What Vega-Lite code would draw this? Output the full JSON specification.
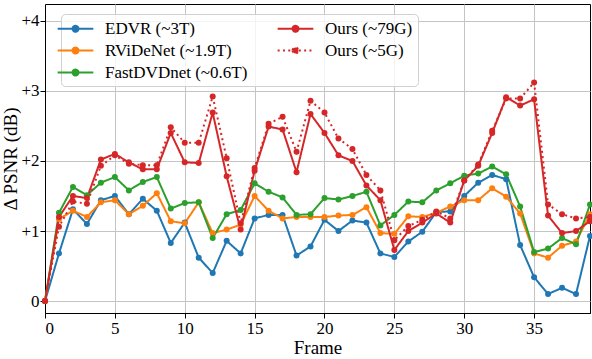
{
"$schema": "https://vega.github.io/schema/vega-lite/v6.json",
"width": 545, "height": 309,
"autosize": {"type": "none"},
"padding": {"left": 45, "top": 4, "right": 2, "bottom": 46},
"background": "white",
"config": {
 "view": {"stroke": "black", "strokeWidth": 1},
 "font": "Liberation Serif",
 "axis": {"labelFont": "Liberation Serif", "labelFontSize": 17, "labelColor": "black", "titleFont": "Liberation Serif", "titleFontSize": 19, "titleFontWeight": "normal", "titleColor": "black", "domainColor": "black", "tickColor": "black", "tickSize": 5, "gridColor": "#c4c4c4", "gridWidth": 1, "labelPadding": 2},
 "legend": {"orient": "none", "legendX": 16, "legendY": 10, "columns": 2, "columnPadding": 25, "rowPadding": 4, "padding": 5, "strokeColor": "#d0d0d0", "fillColor": "rgba(255,255,255,0.8)", "cornerRadius": 4, "labelFont": "Liberation Serif", "labelFontSize": 17, "labelColor": "black", "labelOffset": 20, "symbolType": "M-2.1,0H2.1M-0.35,0A0.35,0.35 0 1,0 0.35,0A0.35,0.35 0 1,0 -0.35,0Z", "symbolSize": 289, "symbolStrokeWidth": 2, "symbolOpacity": 1}
},
"data": {"values": [
{"f":0,"m":"EDVR (~3T)","v":0},{"f":1,"m":"EDVR (~3T)","v":0.68},{"f":2,"m":"EDVR (~3T)","v":1.31},{"f":3,"m":"EDVR (~3T)","v":1.10},{"f":4,"m":"EDVR (~3T)","v":1.44},{"f":5,"m":"EDVR (~3T)","v":1.50},{"f":6,"m":"EDVR (~3T)","v":1.24},{"f":7,"m":"EDVR (~3T)","v":1.46},{"f":8,"m":"EDVR (~3T)","v":1.29},{"f":9,"m":"EDVR (~3T)","v":0.83},
{"f":10,"m":"EDVR (~3T)","v":1.12},{"f":11,"m":"EDVR (~3T)","v":0.62},{"f":12,"m":"EDVR (~3T)","v":0.40},{"f":13,"m":"EDVR (~3T)","v":0.86},{"f":14,"m":"EDVR (~3T)","v":0.68},{"f":15,"m":"EDVR (~3T)","v":1.18},{"f":16,"m":"EDVR (~3T)","v":1.23},{"f":17,"m":"EDVR (~3T)","v":1.23},{"f":18,"m":"EDVR (~3T)","v":0.65},{"f":19,"m":"EDVR (~3T)","v":0.78},
{"f":20,"m":"EDVR (~3T)","v":1.16},{"f":21,"m":"EDVR (~3T)","v":1.00},{"f":22,"m":"EDVR (~3T)","v":1.15},{"f":23,"m":"EDVR (~3T)","v":1.12},{"f":24,"m":"EDVR (~3T)","v":0.68},{"f":25,"m":"EDVR (~3T)","v":0.63},{"f":26,"m":"EDVR (~3T)","v":0.85},{"f":27,"m":"EDVR (~3T)","v":0.99},{"f":28,"m":"EDVR (~3T)","v":1.27},{"f":29,"m":"EDVR (~3T)","v":1.28},
{"f":30,"m":"EDVR (~3T)","v":1.50},{"f":31,"m":"EDVR (~3T)","v":1.69},{"f":32,"m":"EDVR (~3T)","v":1.80},{"f":33,"m":"EDVR (~3T)","v":1.74},{"f":34,"m":"EDVR (~3T)","v":0.80},{"f":35,"m":"EDVR (~3T)","v":0.34},{"f":36,"m":"EDVR (~3T)","v":0.10},{"f":37,"m":"EDVR (~3T)","v":0.19},{"f":38,"m":"EDVR (~3T)","v":0.10},{"f":39,"m":"EDVR (~3T)","v":0.93},
{"f":0,"m":"RViDeNet (~1.9T)","v":0},{"f":1,"m":"RViDeNet (~1.9T)","v":1.17},{"f":2,"m":"RViDeNet (~1.9T)","v":1.29},{"f":3,"m":"RViDeNet (~1.9T)","v":1.20},{"f":4,"m":"RViDeNet (~1.9T)","v":1.41},{"f":5,"m":"RViDeNet (~1.9T)","v":1.44},{"f":6,"m":"RViDeNet (~1.9T)","v":1.24},{"f":7,"m":"RViDeNet (~1.9T)","v":1.36},{"f":8,"m":"RViDeNet (~1.9T)","v":1.54},{"f":9,"m":"RViDeNet (~1.9T)","v":1.14},
{"f":10,"m":"RViDeNet (~1.9T)","v":1.11},{"f":11,"m":"RViDeNet (~1.9T)","v":1.41},{"f":12,"m":"RViDeNet (~1.9T)","v":0.97},{"f":13,"m":"RViDeNet (~1.9T)","v":1.02},{"f":14,"m":"RViDeNet (~1.9T)","v":1.09},{"f":15,"m":"RViDeNet (~1.9T)","v":1.50},{"f":16,"m":"RViDeNet (~1.9T)","v":1.29},{"f":17,"m":"RViDeNet (~1.9T)","v":1.18},{"f":18,"m":"RViDeNet (~1.9T)","v":1.20},{"f":19,"m":"RViDeNet (~1.9T)","v":1.20},
{"f":20,"m":"RViDeNet (~1.9T)","v":1.20},{"f":21,"m":"RViDeNet (~1.9T)","v":1.22},{"f":22,"m":"RViDeNet (~1.9T)","v":1.23},{"f":23,"m":"RViDeNet (~1.9T)","v":1.34},{"f":24,"m":"RViDeNet (~1.9T)","v":0.97},{"f":25,"m":"RViDeNet (~1.9T)","v":0.96},{"f":26,"m":"RViDeNet (~1.9T)","v":1.21},{"f":27,"m":"RViDeNet (~1.9T)","v":1.20},{"f":28,"m":"RViDeNet (~1.9T)","v":1.26},{"f":29,"m":"RViDeNet (~1.9T)","v":1.35},
{"f":30,"m":"RViDeNet (~1.9T)","v":1.44},{"f":31,"m":"RViDeNet (~1.9T)","v":1.44},{"f":32,"m":"RViDeNet (~1.9T)","v":1.61},{"f":33,"m":"RViDeNet (~1.9T)","v":1.49},{"f":34,"m":"RViDeNet (~1.9T)","v":1.25},{"f":35,"m":"RViDeNet (~1.9T)","v":0.68},{"f":36,"m":"RViDeNet (~1.9T)","v":0.62},{"f":37,"m":"RViDeNet (~1.9T)","v":0.79},{"f":38,"m":"RViDeNet (~1.9T)","v":0.85},{"f":39,"m":"RViDeNet (~1.9T)","v":1.24},
{"f":0,"m":"FastDVDnet (~0.6T)","v":0},{"f":1,"m":"FastDVDnet (~0.6T)","v":1.26},{"f":2,"m":"FastDVDnet (~0.6T)","v":1.63},{"f":3,"m":"FastDVDnet (~0.6T)","v":1.51},{"f":4,"m":"FastDVDnet (~0.6T)","v":1.69},{"f":5,"m":"FastDVDnet (~0.6T)","v":1.77},{"f":6,"m":"FastDVDnet (~0.6T)","v":1.58},{"f":7,"m":"FastDVDnet (~0.6T)","v":1.70},{"f":8,"m":"FastDVDnet (~0.6T)","v":1.77},{"f":9,"m":"FastDVDnet (~0.6T)","v":1.32},
{"f":10,"m":"FastDVDnet (~0.6T)","v":1.40},{"f":11,"m":"FastDVDnet (~0.6T)","v":1.41},{"f":12,"m":"FastDVDnet (~0.6T)","v":0.90},{"f":13,"m":"FastDVDnet (~0.6T)","v":1.24},{"f":14,"m":"FastDVDnet (~0.6T)","v":1.30},{"f":15,"m":"FastDVDnet (~0.6T)","v":1.68},{"f":16,"m":"FastDVDnet (~0.6T)","v":1.56},{"f":17,"m":"FastDVDnet (~0.6T)","v":1.48},{"f":18,"m":"FastDVDnet (~0.6T)","v":1.23},{"f":19,"m":"FastDVDnet (~0.6T)","v":1.24},
{"f":20,"m":"FastDVDnet (~0.6T)","v":1.47},{"f":21,"m":"FastDVDnet (~0.6T)","v":1.45},{"f":22,"m":"FastDVDnet (~0.6T)","v":1.50},{"f":23,"m":"FastDVDnet (~0.6T)","v":1.56},{"f":24,"m":"FastDVDnet (~0.6T)","v":1.08},{"f":25,"m":"FastDVDnet (~0.6T)","v":1.23},{"f":26,"m":"FastDVDnet (~0.6T)","v":1.42},{"f":27,"m":"FastDVDnet (~0.6T)","v":1.41},{"f":28,"m":"FastDVDnet (~0.6T)","v":1.58},{"f":29,"m":"FastDVDnet (~0.6T)","v":1.68},
{"f":30,"m":"FastDVDnet (~0.6T)","v":1.79},{"f":31,"m":"FastDVDnet (~0.6T)","v":1.82},{"f":32,"m":"FastDVDnet (~0.6T)","v":1.92},{"f":33,"m":"FastDVDnet (~0.6T)","v":1.81},{"f":34,"m":"FastDVDnet (~0.6T)","v":1.35},{"f":35,"m":"FastDVDnet (~0.6T)","v":0.70},{"f":36,"m":"FastDVDnet (~0.6T)","v":0.75},{"f":37,"m":"FastDVDnet (~0.6T)","v":0.90},{"f":38,"m":"FastDVDnet (~0.6T)","v":0.81},{"f":39,"m":"FastDVDnet (~0.6T)","v":1.38},
{"f":0,"m":"Ours (~79G)","v":0},{"f":1,"m":"Ours (~79G)","v":1.20},{"f":2,"m":"Ours (~79G)","v":1.50},{"f":3,"m":"Ours (~79G)","v":1.47},{"f":4,"m":"Ours (~79G)","v":2.02},{"f":5,"m":"Ours (~79G)","v":2.10},{"f":6,"m":"Ours (~79G)","v":1.98},{"f":7,"m":"Ours (~79G)","v":1.88},{"f":8,"m":"Ours (~79G)","v":1.88},{"f":9,"m":"Ours (~79G)","v":2.40},
{"f":10,"m":"Ours (~79G)","v":1.98},{"f":11,"m":"Ours (~79G)","v":1.97},{"f":12,"m":"Ours (~79G)","v":2.69},{"f":13,"m":"Ours (~79G)","v":1.78},{"f":14,"m":"Ours (~79G)","v":1.02},{"f":15,"m":"Ours (~79G)","v":1.86},{"f":16,"m":"Ours (~79G)","v":2.49},{"f":17,"m":"Ours (~79G)","v":2.45},{"f":18,"m":"Ours (~79G)","v":1.84},{"f":19,"m":"Ours (~79G)","v":2.67},
{"f":20,"m":"Ours (~79G)","v":2.40},{"f":21,"m":"Ours (~79G)","v":2.08},{"f":22,"m":"Ours (~79G)","v":2.00},{"f":23,"m":"Ours (~79G)","v":1.65},{"f":24,"m":"Ours (~79G)","v":1.44},{"f":25,"m":"Ours (~79G)","v":0.73},{"f":26,"m":"Ours (~79G)","v":1.00},{"f":27,"m":"Ours (~79G)","v":1.12},{"f":28,"m":"Ours (~79G)","v":1.25},{"f":29,"m":"Ours (~79G)","v":1.12},
{"f":30,"m":"Ours (~79G)","v":1.72},{"f":31,"m":"Ours (~79G)","v":1.93},{"f":32,"m":"Ours (~79G)","v":2.40},{"f":33,"m":"Ours (~79G)","v":2.91},{"f":34,"m":"Ours (~79G)","v":2.79},{"f":35,"m":"Ours (~79G)","v":2.88},{"f":36,"m":"Ours (~79G)","v":1.22},{"f":37,"m":"Ours (~79G)","v":0.97},{"f":38,"m":"Ours (~79G)","v":1.00},{"f":39,"m":"Ours (~79G)","v":1.14},
{"f":0,"m":"Ours (~5G)","v":0},{"f":1,"m":"Ours (~5G)","v":1.06},{"f":2,"m":"Ours (~5G)","v":1.42},{"f":3,"m":"Ours (~5G)","v":1.39},{"f":4,"m":"Ours (~5G)","v":1.93},{"f":5,"m":"Ours (~5G)","v":2.08},{"f":6,"m":"Ours (~5G)","v":1.96},{"f":7,"m":"Ours (~5G)","v":1.94},{"f":8,"m":"Ours (~5G)","v":1.94},{"f":9,"m":"Ours (~5G)","v":2.48},
{"f":10,"m":"Ours (~5G)","v":2.26},{"f":11,"m":"Ours (~5G)","v":2.26},{"f":12,"m":"Ours (~5G)","v":2.92},{"f":13,"m":"Ours (~5G)","v":2.04},{"f":14,"m":"Ours (~5G)","v":1.11},{"f":15,"m":"Ours (~5G)","v":1.90},{"f":16,"m":"Ours (~5G)","v":2.53},{"f":17,"m":"Ours (~5G)","v":2.63},{"f":18,"m":"Ours (~5G)","v":2.13},{"f":19,"m":"Ours (~5G)","v":2.86},
{"f":20,"m":"Ours (~5G)","v":2.69},{"f":21,"m":"Ours (~5G)","v":2.32},{"f":22,"m":"Ours (~5G)","v":2.17},{"f":23,"m":"Ours (~5G)","v":1.80},{"f":24,"m":"Ours (~5G)","v":1.58},{"f":25,"m":"Ours (~5G)","v":0.87},{"f":26,"m":"Ours (~5G)","v":1.07},{"f":27,"m":"Ours (~5G)","v":1.16},{"f":28,"m":"Ours (~5G)","v":1.28},{"f":29,"m":"Ours (~5G)","v":1.18},
{"f":30,"m":"Ours (~5G)","v":1.72},{"f":31,"m":"Ours (~5G)","v":1.95},{"f":32,"m":"Ours (~5G)","v":2.43},{"f":33,"m":"Ours (~5G)","v":2.89},{"f":34,"m":"Ours (~5G)","v":2.89},{"f":35,"m":"Ours (~5G)","v":3.12},{"f":36,"m":"Ours (~5G)","v":1.38},{"f":37,"m":"Ours (~5G)","v":1.24},{"f":38,"m":"Ours (~5G)","v":1.18},{"f":39,"m":"Ours (~5G)","v":1.20}
]},
"encoding": {
 "x": {"field": "f", "type": "quantitative", "scale": {"domain": [0, 39], "nice": false, "zero": false}, "axis": {"title": "Frame", "values": [0,5,10,15,20,25,30,35], "titlePadding": 2}},
 "y": {"field": "v", "type": "quantitative", "scale": {"domain": [-0.17, 4.24], "nice": false, "zero": false}, "axis": {"title": "Δ PSNR (dB)", "values": [0,1,2,3,4], "labelExpr": "datum.value > 0 ? '+' + datum.value : '' + datum.value", "titlePadding": 0, "labelPadding": 1}},
 "color": {"field": "m", "type": "nominal", "sort": null, "scale": {"domain": ["EDVR (~3T)", "RViDeNet (~1.9T)", "FastDVDnet (~0.6T)", "Ours (~79G)", "Ours (~5G)"], "range": ["#1f77b4", "#ff7f0e", "#2ca02c", "#d62728", "#d62728"]}, "legend": {"title": null, "encode": {"symbols": {"update": {"fill": {"scale": "color", "field": "value"}, "stroke": {"scale": "color", "field": "value"}}}}}}
},
"layer": [
 {"mark": {"type": "line", "strokeWidth": 2}, "encoding": {"strokeDash": {"field": "m", "type": "nominal", "sort": null, "scale": {"domain": ["EDVR (~3T)", "RViDeNet (~1.9T)", "FastDVDnet (~0.6T)", "Ours (~79G)", "Ours (~5G)"], "range": [[1,0],[1,0],[1,0],[1,0],[2,3.3]]}, "legend": {"title": null}}}},
 {"mark": {"type": "point", "filled": true, "size": 36, "opacity": 1}, "encoding": {}}
]
}
